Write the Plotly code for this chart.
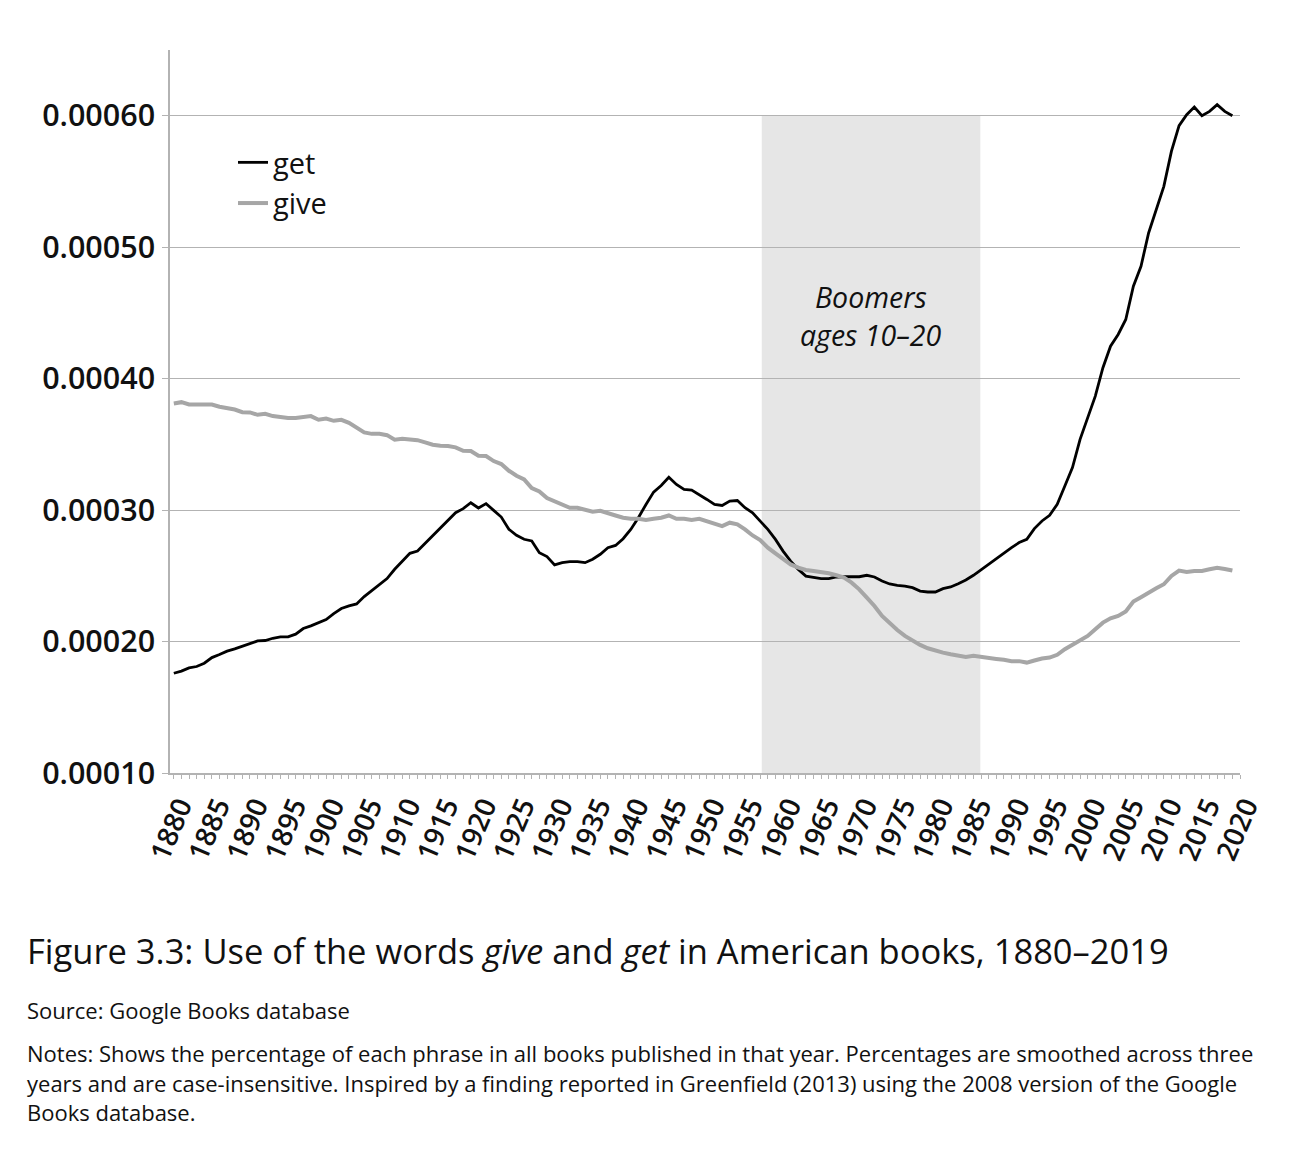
import plotly.graph_objects as go

years = list(range(1880, 2020))

get_values = [
    0.0001759, 0.0001775, 0.0001800, 0.0001810, 0.0001835, 0.0001878, 0.0001901, 0.0001927, 0.0001944, 0.0001965,
    0.0001985, 0.0002005, 0.0002008, 0.0002025, 0.0002035, 0.0002035, 0.0002056, 0.0002099, 0.0002119, 0.0002144,
    0.0002167, 0.0002213, 0.0002251, 0.0002271, 0.0002286, 0.0002342, 0.0002390, 0.0002431, 0.0002479, 0.0002550,
    0.0002613, 0.0002671, 0.0002689, 0.0002747, 0.0002803, 0.0002864, 0.0002922, 0.0002980, 0.0003011, 0.0003056,
    0.0003016, 0.0003049, 0.0002998, 0.0002947, 0.0002854, 0.0002808, 0.0002778, 0.0002765, 0.0002676, 0.0002646,
    0.0002583, 0.0002600, 0.0002608, 0.0002608, 0.0002600, 0.0002626, 0.0002664, 0.0002714, 0.0002731, 0.0002782,
    0.0002853, 0.0002942, 0.0003043, 0.0003137, 0.0003187, 0.0003250, 0.0003195, 0.0003157, 0.0003152, 0.0003119,
    0.0003081, 0.0003043, 0.0003035, 0.0003068, 0.0003073, 0.0003018, 0.0002980, 0.0002916, 0.0002853, 0.0002777,
    0.0002688, 0.0002612, 0.0002549, 0.0002498, 0.0002486, 0.0002478, 0.0002478, 0.0002491, 0.0002493, 0.0002493,
    0.0002493, 0.0002504, 0.0002491, 0.0002460, 0.0002438, 0.0002428, 0.0002422, 0.0002410, 0.0002384, 0.0002377,
    0.0002377, 0.0002402, 0.0002415, 0.0002440, 0.0002468, 0.0002504, 0.0002547, 0.0002588, 0.0002626, 0.0002672,
    0.0002715, 0.0002753, 0.0002778, 0.0002859, 0.0002917, 0.0002960, 0.0003044, 0.0003183, 0.0003323, 0.0003538,
    0.0003703, 0.0003867, 0.0004083, 0.0004247, 0.0004336, 0.0004450, 0.0004703, 0.0004855, 0.0005108, 0.0005286,
    0.0005463, 0.0005730, 0.0005924, 0.0006008, 0.0006066, 0.0006000, 0.0006033, 0.0006084, 0.0006033, 0.0006000,
]

give_values = [
    0.0003811, 0.0003821, 0.0003803, 0.0003803, 0.0003803, 0.0003803, 0.0003786, 0.0003775, 0.0003765, 0.0003745,
    0.0003743, 0.0003725, 0.0003733, 0.0003715, 0.0003705, 0.0003700, 0.0003700, 0.0003707, 0.0003715, 0.0003687,
    0.0003697, 0.0003679, 0.0003687, 0.0003664, 0.0003631, 0.0003591, 0.0003580, 0.0003580, 0.0003570, 0.0003535,
    0.0003542, 0.0003535, 0.0003532, 0.0003515, 0.0003497, 0.0003489, 0.0003487, 0.0003477, 0.0003451, 0.0003449,
    0.0003413, 0.0003411, 0.0003373, 0.0003350, 0.0003299, 0.0003261, 0.0003234, 0.0003168, 0.0003142, 0.0003092,
    0.0003069, 0.0003046, 0.0003018, 0.0003018, 0.0003000, 0.0002988, 0.0002995, 0.0002980, 0.0002959, 0.0002942,
    0.0002934, 0.0002934, 0.0002924, 0.0002934, 0.0002942, 0.0002959, 0.0002934, 0.0002934, 0.0002924, 0.0002934,
    0.0002916, 0.0002899, 0.0002878, 0.0002904, 0.0002891, 0.0002853, 0.0002807, 0.0002772, 0.0002714, 0.0002671,
    0.0002625, 0.0002587, 0.0002562, 0.0002544, 0.0002536, 0.0002529, 0.0002519, 0.0002504, 0.0002486, 0.0002448,
    0.0002397, 0.0002334, 0.0002271, 0.0002195, 0.0002139, 0.0002088, 0.0002043, 0.0002005, 0.0001974, 0.0001949,
    0.0001929, 0.0001916, 0.0001903, 0.0001891, 0.0001883, 0.0001891, 0.0001881, 0.0001871, 0.0001868, 0.0001861,
    0.0001851, 0.0001851, 0.0001840, 0.0001856, 0.0001871, 0.0001878, 0.0001899, 0.0001942, 0.0001975, 0.0002013,
    0.0002043, 0.0002094, 0.0002144, 0.0002177, 0.0002195, 0.0002228, 0.0002304, 0.0002337, 0.0002375, 0.0002405,
    0.0002436, 0.0002499, 0.0002540, 0.0002530, 0.0002537, 0.0002537, 0.0002550, 0.0002562, 0.0002552, 0.0002540,
]

x_tick_years = list(range(1880, 2021, 5))
y_ticks = [0.0001, 0.0002, 0.0003, 0.0004, 0.0005, 0.0006]
y_tick_labels = ["0.00010", "0.00020", "0.00030", "0.00040", "0.00050", "0.00060"]

boomer_start, boomer_end = 1957.2, 1985.9
boomer_top = 0.0006

FONT = "Open Sans"
GRID = "#b3b3b3"
TXT = "#111111"

# plot area in page pixels: x 170..1240, y 50..773 (page has an 8px offset)
PL, PR, PT, PB = 170, 1240, 50, 773


def px_to_paper_x(xp):
    return (xp - PL) / (PR - PL)


def px_to_paper_y(yp):
    return (PB - yp) / (PB - PT)


fig = go.Figure()

fig.add_trace(go.Scatter(x=years, y=get_values, name="get", mode="lines", legendgroup="a",
                         line=dict(color="#000000", width=2.8)))
fig.add_trace(go.Scatter(x=years, y=give_values, name="give", mode="lines", legendgroup="b",
                         line=dict(color="#a6a6a6", width=4)))

fig.add_shape(type="rect", xref="x", yref="y", x0=boomer_start, x1=boomer_end,
              y0=0.0001, y1=boomer_top, fillcolor="#e6e6e6", line=dict(width=0),
              layer="below")

xc = (boomer_start + boomer_end) / 2
fig.add_annotation(x=xc, y=px_to_paper_y(297), xref="x", yref="paper",
                   text="<i>Boomers</i>", showarrow=False,
                   font=dict(family=FONT, size=28.5, color=TXT))
fig.add_annotation(x=xc, y=px_to_paper_y(335), xref="x", yref="paper",
                   text="<i>ages 10–20</i>", showarrow=False,
                   font=dict(family=FONT, size=28.5, color=TXT))

fig.update_layout(
    width=1304, height=1174,
    margin=dict(l=PL - 8, r=1304 - (PR - 8), t=PT - 8, b=1174 - (PB - 8)),
    paper_bgcolor="white", plot_bgcolor="white",
    showlegend=True,
    legend=dict(x=px_to_paper_x(233), y=px_to_paper_y(137), xanchor="left", yanchor="top",
                bgcolor="rgba(0,0,0,0)", font=dict(family=FONT, size=29, color=TXT),
                itemwidth=30, tracegroupgap=0, traceorder="grouped"),
    font=dict(family=FONT, color=TXT),
)

fig.update_xaxes(
    range=[1879.5, 2020.0], tickmode="array", tickvals=x_tick_years,
    ticktext=[str(v) for v in x_tick_years], tickangle=-67,
    tickfont=dict(family=FONT, size=28, color=TXT, weight=600),
    ticklabelshift=6,
    showline=True, linecolor=GRID, linewidth=1.5,
    ticks="outside", ticklen=4, tickcolor=GRID, tickwidth=1,
    minor=dict(dtick=1, tick0=1880, ticks="outside", ticklen=4, tickcolor=GRID, tickwidth=1),
    showgrid=False, zeroline=False,
)

fig.update_yaxes(
    range=[0.0001, 0.00065], tickmode="array", tickvals=y_ticks, ticktext=y_tick_labels,
    tickfont=dict(family=FONT, size=30.5, color=TXT, weight=600),
    showline=True, linecolor=GRID, linewidth=1.5,
    ticks="outside", ticklen=6, tickcolor=GRID, ticklabelstandoff=1,
    showgrid=True, gridcolor=GRID, gridwidth=1, zeroline=False,
)

caption_lines = [
    (950, 34.5, "Figure 3.3: Use of the words <i>give</i> and <i>get</i> in American books, 1880–2019"),
    (1010, 22, "Source: Google Books database"),
    (1053, 22, "Notes: Shows the percentage of each phrase in all books published in that year. Percentages are smoothed across three"),
    (1083, 22, "years and are case-insensitive. Inspired by a finding reported in Greenfield (2013) using the 2008 version of the Google"),
    (1112, 22, "Books database."),
]
for ypix, size, txt in caption_lines:
    fig.add_annotation(x=px_to_paper_x(25), y=px_to_paper_y(ypix), xref="paper", yref="paper",
                       xanchor="left", yanchor="middle", text=txt, showarrow=False,
                       font=dict(family=FONT, size=size, color=TXT))

fig.write_html("out.html")
